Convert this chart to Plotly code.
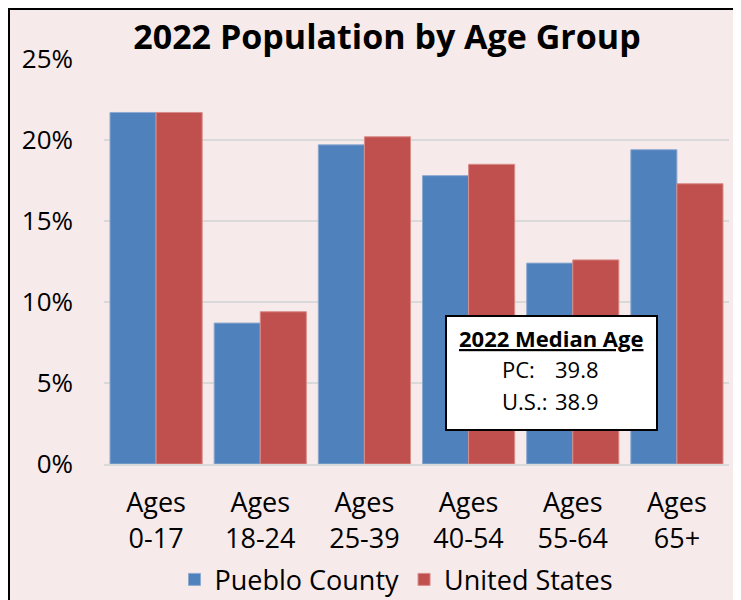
import plotly.graph_objects as go

categories = ["Ages<br>0-17", "Ages<br>18-24", "Ages<br>25-39", "Ages<br>40-54", "Ages<br>55-64", "Ages<br>65+"]
pueblo = [21.7, 8.7, 19.7, 17.8, 12.4, 19.4]
us = [21.7, 9.4, 20.2, 18.5, 12.6, 17.3]
series_names = ["Pueblo County", "United States"]
median_labels = ["PC:", "U.S.:"]
median_values = [39.8, 38.9]
y_ticks = [0, 5, 10, 15, 20, 25]
y_ticklabels = ["0%", "5%", "10%", "15%", "20%", "25%"]

FONT = "'Open Sans', Lato, sans-serif"
BLUE = "#4F81BD"
RED = "#C0504D"
BG = "#F7EAEA"

# the page places the figure 8px from the window's top-left corner
OFF = 8
W, H = 741 - OFF, 600 - OFF

fig = go.Figure()
fig.add_trace(go.Bar(x=categories, y=pueblo, name=series_names[0],
                     marker=dict(color=BLUE, line=dict(color="#8FAAD0", width=1))))
fig.add_trace(go.Bar(x=categories, y=us, name=series_names[1],
                     marker=dict(color=RED, line=dict(color="#D98C8A", width=1))))

fig.update_layout(
    width=W, height=H,
    paper_bgcolor=BG, plot_bgcolor=BG,
    margin=dict(l=104 - OFF, r=741 - 729, t=59 - OFF, b=600 - 464, autoexpand=False),
    barmode="group", bargap=0.115, bargroupgap=0,
    font=dict(family=FONT, size=27, color="black"),
    title=dict(text="<b>2022 Population by Age Group</b>", x=(387 - OFF) / W, xanchor="center",
               y=1 - (37 - OFF) / H, yanchor="middle", font=dict(size=34, family=FONT, color="black")),
    showlegend=True,
    legend=dict(orientation="h", x=0.468, xanchor="center", y=-0.286, yanchor="middle",
                font=dict(size=27), bgcolor="rgba(0,0,0,0)"),
    xaxis=dict(showgrid=False, showline=True, linecolor="#D9D9D9", linewidth=2,
               ticks="", tickfont=dict(size=27), ticklabelstandoff=14, automargin=False),
    yaxis=dict(range=[0, 25], tickvals=y_ticks, ticktext=y_ticklabels, showgrid=True,
               gridcolor="#D9D9D9", gridwidth=2, zeroline=False, showline=False,
               ticks="", tickfont=dict(size=26), ticklabelstandoff=30, automargin=False),
)

def px_x(v):
    return (v - 104) / 625

def px_y(v):
    return (464 - v) / 405

# border on left and top
fig.add_shape(type="line", xref="paper", yref="paper", x0=px_x(9), x1=px_x(9), y0=-2, y1=2,
              line=dict(color="black", width=2))
fig.add_shape(type="line", xref="paper", yref="paper", x0=-1, x1=2, y0=px_y(9), y1=px_y(9),
              line=dict(color="black", width=2))

# median age box
fig.add_shape(type="rect", xref="paper", yref="paper",
              x0=px_x(446), x1=px_x(657), y0=px_y(430), y1=px_y(316),
              line=dict(color="black", width=2), fillcolor="white")
fig.add_annotation(xref="paper", yref="paper", x=px_x(551), y=px_y(338),
                   xanchor="center", yanchor="middle",
                   text="<b><u>2022 Median Age</u></b>", showarrow=False,
                   font=dict(size=22, family=FONT, color="black"))
rows_y = [369, 401]
for lab, val, yy in zip(median_labels, median_values, rows_y):
    fig.add_annotation(xref="paper", yref="paper", x=px_x(500), y=px_y(yy),
                       xanchor="left", yanchor="middle",
                       text=lab, showarrow=False, font=dict(size=22, family=FONT, color="black"))
    fig.add_annotation(xref="paper", yref="paper", x=px_x(553), y=px_y(yy),
                       xanchor="left", yanchor="middle",
                       text=f"{val:.1f}", showarrow=False, font=dict(size=22, family=FONT, color="black"))

fig.write_html("out.html")
